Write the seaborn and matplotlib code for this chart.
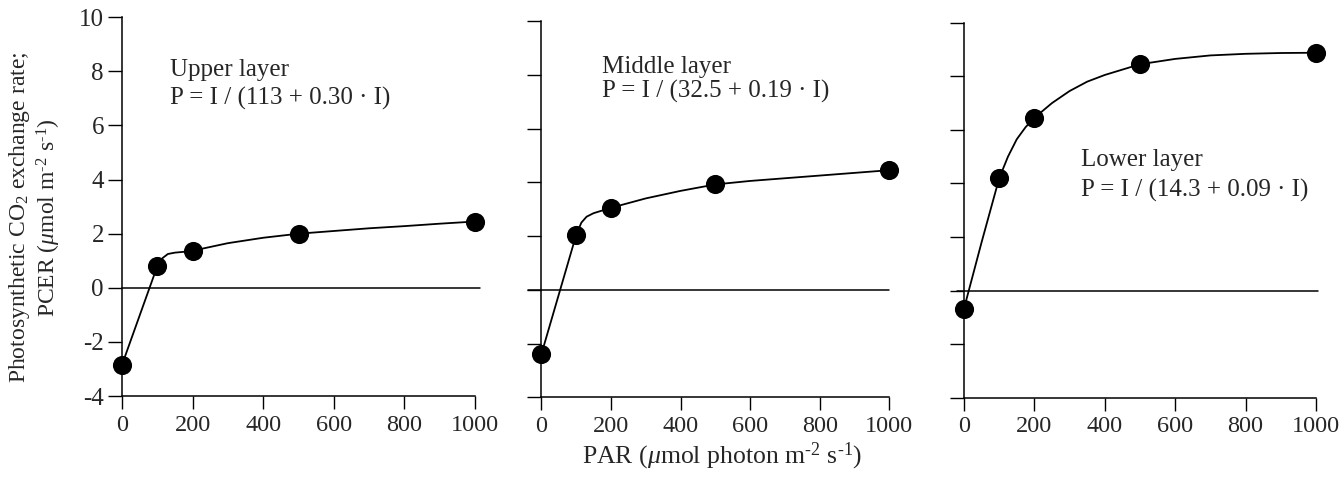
import matplotlib
matplotlib.use("Agg")
import matplotlib.pyplot as plt
import seaborn as sns
import pandas as pd

sns.set_theme(style="ticks")
plt.rcParams['font.family'] = ['Liberation Serif', 'DejaVu Serif']
plt.rcParams['mathtext.fontset'] = 'custom'
plt.rcParams['mathtext.rm'] = 'Liberation Serif'
plt.rcParams['mathtext.it'] = 'Liberation Serif:italic'
plt.rcParams['axes.unicode_minus'] = False

# measured points (PAR, PCER)
par = [0, 100, 200, 500, 1000]
upper_pts = [-2.85, 0.8, 1.37, 2.0, 2.45]
middle_pts = [-2.4, 2.04, 3.05, 3.92, 4.45]
lower_pts = [-0.68, 4.19, 6.45, 8.45, 8.87]

# fitted curves as drawn in the figure
upper_cx = [0, 100, 115, 130, 150, 175, 200, 300, 400, 500, 600, 700, 800, 900, 1000]
upper_cy = [-2.85, 0.8, 1.1, 1.25, 1.3, 1.33, 1.37, 1.65, 1.85, 2.0, 2.1, 2.2, 2.28, 2.37, 2.45]
middle_cx = [0, 100, 115, 130, 150, 175, 200, 300, 400, 500, 600, 700, 800, 900, 1000]
middle_cy = [-2.4, 2.04, 2.5, 2.72, 2.85, 2.95, 3.05, 3.4, 3.68, 3.92, 4.05, 4.15, 4.25, 4.35, 4.45]
lower_cx = [0, 50, 100, 125, 150, 175, 200, 250, 300, 350, 400, 450, 500, 600, 700, 800, 900, 1000]
lower_cy = [-0.68, 1.8, 4.19, 5.0, 5.65, 6.1, 6.45, 7.0, 7.45, 7.8, 8.05, 8.25, 8.45, 8.65, 8.78, 8.84, 8.87, 8.88]

names = ["Upper layer", "Middle layer", "Lower layer"]
equations = ["P = I / (113 + 0.30 \u00b7 I)", "P = I / (32.5 + 0.19 \u00b7 I)", "P = I / (14.3 + 0.09 \u00b7 I)"]
label_xy = [(136, 7.83, 6.76), (174, 8.08, 7.16), (332, 4.66, 3.5)]
zero_span = [(0.0, 1.015), (-0.038, 1.0), (-0.02, 1.005)]

pts = [upper_pts, middle_pts, lower_pts]
curves = [(upper_cx, upper_cy), (middle_cx, middle_cy), (lower_cx, lower_cy)]

fig = plt.figure(figsize=(13.42, 4.84), dpi=100)
boxes = [(0.0909, 0.1818, 0.2631, 0.7825),
         (0.4034, 0.1791, 0.2593, 0.7775),
         (0.7183, 0.1783, 0.2623, 0.7747)]

for i in range(3):
    ax = fig.add_axes(boxes[i])
    cx, cy = curves[i]
    dfc = pd.DataFrame({"x": cx, "y": cy})
    dfp = pd.DataFrame({"x": par, "y": pts[i]})
    sns.lineplot(data=dfc, x="x", y="y", ax=ax, color="black", linewidth=1.3,
                 sort=False, estimator=None, clip_on=False)
    sns.scatterplot(data=dfp, x="x", y="y", ax=ax, color="black", s=190,
                    edgecolor="black", linewidth=0, clip_on=False, zorder=5)
    lo, hi = zero_span[i]
    ax.plot([lo, hi], [0, 0], transform=ax.get_yaxis_transform(), color="black",
            linewidth=1.1, clip_on=False)
    ax.set_xlim(0, 1000)
    ax.set_ylim(-4, 10)
    ax.set_xticks([0, 200, 400, 600, 800, 1000])
    ax.set_yticks([-4, -2, 0, 2, 4, 6, 8, 10])
    ax.tick_params(axis="y", length=10, width=1.0, direction="out", labelsize=18, color="black", pad=3)
    ax.tick_params(axis="x", length=9.5, width=1.0, direction="out", labelsize=17.5, color="black", pad=4)
    if i > 0:
        ax.set_yticklabels([])
    sns.despine(ax=ax)
    for s in ["left", "bottom"]:
        ax.spines[s].set_linewidth(1.1)
        ax.spines[s].set_color("black")
    ax.set_xlabel("")
    ax.set_ylabel("")
    tx, ty1, ty2 = label_xy[i]
    ax.text(tx, ty1, names[i], fontsize=18, va="baseline", ha="left")
    ax.text(tx, ty2, equations[i], fontsize=18, va="baseline", ha="left")

fig.text(0.538, 0.043, "PAR ($\\mu$mol photon m$^{\\text{-}2}$ s$^{\\text{-}1}$)", fontsize=18.5,
         ha="center", va="baseline")
fig.text(0.026, 0.55, "Photosynthetic CO$_2$ exchange rate;\nPCER ($\\mu$mol m$^{\\text{-}2}$ s$^{\\text{-}1}$)",
         fontsize=17, rotation=90, ha="center", va="center", multialignment="center",
         linespacing=1.15)

plt.savefig("out.png", dpi=100)
